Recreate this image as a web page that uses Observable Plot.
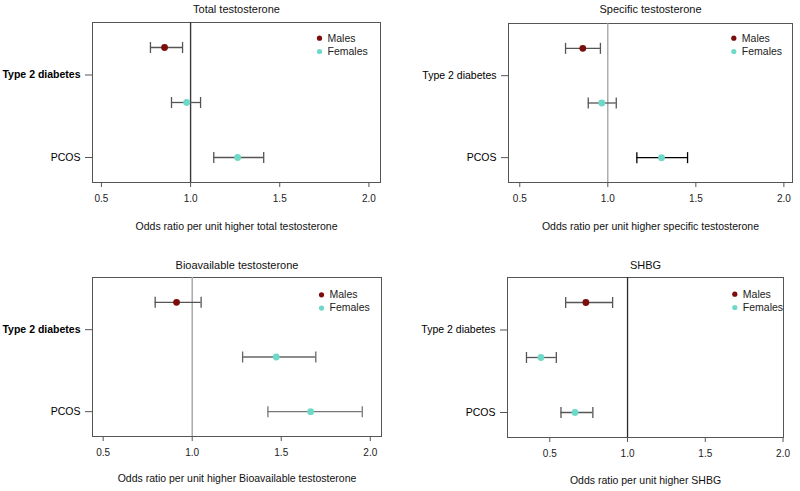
<!DOCTYPE html>
<html><head><meta charset="utf-8">
<script src="https://cdn.jsdelivr.net/npm/d3@7"></script>
<script src="https://cdn.jsdelivr.net/npm/@observablehq/plot@0.6"></script>
<style>
html,body{margin:0;padding:0;background:#fff;}
#chart{position:relative;width:800px;height:491px;overflow:hidden;font-family:"Liberation Sans",Arial,sans-serif;}
#chart > .panel{position:absolute;}
</style></head><body><div id="chart"></div>
<script>
// ---- data ----
const panelTitles = ["Total testosterone", "Specific testosterone", "Bioavailable testosterone", "SHBG"];
const xAxisLabels = [
  "Odds ratio per unit higher total testosterone",
  "Odds ratio per unit higher specific testosterone",
  "Odds ratio per unit higher Bioavailable testosterone",
  "Odds ratio per unit higher SHBG"
];
const outcomes = ["Type 2 diabetes", "Type 2 diabetes", "PCOS"];
const sexes = ["Males", "Females", "Females"];
const oddsRatio = [
  [0.854, 0.978, 1.264],
  [0.858, 0.966, 1.305],
  [0.912, 1.472, 1.665],
  [0.732, 0.443, 0.662]
];
const ciLow = [
  [0.775, 0.893, 1.130],
  [0.760, 0.889, 1.165],
  [0.792, 1.283, 1.425],
  [0.602, 0.350, 0.572]
];
const ciHigh = [
  [0.955, 1.056, 1.410],
  [0.958, 1.048, 1.453],
  [1.050, 1.694, 1.955],
  [0.904, 0.542, 0.777]
];
const xTicks = [0.5, 1.0, 1.5, 2.0];
const legendSeries = ["Males", "Females"];
const refValue = 1;

// ---- styling / layout ----
const sexColors = ["#7b0d0d", "#6fd9c9"];
const layout = [
  {left: 0, top: 0, width: 400, height: 245, ml: 92, mr: 20, mt: 22, mb: 63, xdom: [0.45, 2.065],
   ref: "#3a3a3a", refW: 1.4, ci: ["#555", "#555", "#555"], bold: true, leg: [-61, 15.7], titleDy: -13, labDy: 44},
  {left: 400, top: 0, width: 400, height: 245, ml: 108, mr: 8, mt: 23, mb: 63, xdom: [0.436, 2.049],
   ref: "#9a9a9a", refW: 1.2, ci: ["#555", "#555", "#000"], bold: false, leg: [-58.7, 14.7], titleDy: -14, labDy: 44},
  {left: 0, top: 245, width: 400, height: 246, ml: 92, mr: 19, mt: 32, mb: 55, xdom: [0.44, 2.063],
   ref: "#a8a8a8", refW: 1.5, ci: ["#555", "#666", "#777"], bold: true, leg: [-60, 17.3], titleDy: -12, labDy: 42},
  {left: 400, top: 245, width: 400, height: 246, ml: 107, mr: 17, mt: 32, mb: 54, xdom: [0.228, 2.003],
   ref: "#2a2a2a", refW: 1.3, ci: ["#555", "#555", "#555"], bold: false, leg: [-48.7, 16.7], titleDy: -12, labDy: 43}
];

const capSymbol = {
  draw(ctx, size) {
    const h = Math.sqrt(size / Math.PI);
    ctx.moveTo(0, -h);
    ctx.lineTo(0, h);
  }
};

// y tick positions: one per outcome, at mean row index of its rows
const outcomeNames = [...new Set(outcomes)];
const yTickPos = outcomeNames.map(o => d3.mean(outcomes.map((v, i) => v === o ? i : null).filter(v => v !== null)));
const yTickLabel = new Map(yTickPos.map((p, i) => [p, outcomeNames[i]]));

const chart = document.getElementById("chart");

panelTitles.forEach((title, p) => {
  const L = layout[p];
  const data = outcomes.map((o, i) => ({
    row: i, outcome: o, sex: sexes[i],
    or: oddsRatio[p][i], lo: ciLow[p][i], hi: ciHigh[p][i], ci: L.ci[i]
  }));
  const unit = 55;
  const pad = 25 / unit;
  const marks = [
    Plot.frame({stroke: "#555", strokeWidth: 1}),
    Plot.ruleX([refValue], {stroke: L.ref, strokeWidth: L.refW}),
    Plot.ruleY(data, {y: "row", x1: "lo", x2: "hi", stroke: d => d.ci, strokeWidth: 1.3}),
    Plot.dot(data, {x: "lo", y: "row", symbol: capSymbol, r: 5.5, fill: "none", stroke: d => d.ci, strokeWidth: 1.3}),
    Plot.dot(data, {x: "hi", y: "row", symbol: capSymbol, r: 5.5, fill: "none", stroke: d => d.ci, strokeWidth: 1.3}),
    Plot.dot(data, {x: "or", y: "row", r: 3.4, fill: "sex", stroke: "none"})
  ];
  legendSeries.forEach((s, i) => {
    marks.push(Plot.dot([s], {frameAnchor: "top-right", dx: L.leg[0], dy: L.leg[1] + i * 13.3, r: 2.6, fill: d => d, stroke: "none"}));
    marks.push(Plot.text([s], {frameAnchor: "top-right", dx: L.leg[0] + 8, dy: L.leg[1] + i * 13.3, text: d => d,
      textAnchor: "start", lineAnchor: "middle", fontSize: 10.5, fill: "#222"}));
  });
  marks.push(Plot.text([title], {frameAnchor: "top", dy: L.titleDy, text: d => d, fontSize: 11, fill: "#111", lineAnchor: "middle"}));
  marks.push(Plot.text([xAxisLabels[p]], {frameAnchor: "bottom", dy: L.labDy, text: d => d, fontSize: 10.5, fill: "#111", lineAnchor: "middle"}));

  const svg = Plot.plot({
    width: L.width, height: L.height,
    marginLeft: L.ml, marginRight: L.mr, marginTop: L.mt, marginBottom: L.mb,
    style: {fontFamily: "'Liberation Sans', Arial, sans-serif", fontSize: "10px", color: "#222", background: "white", overflow: "visible"},
    x: {domain: L.xdom, ticks: xTicks, tickFormat: d3.format(".1f"), tickSize: 5, tickPadding: 7, label: null},
    y: {domain: [-pad, 2 + pad], reverse: true, ticks: yTickPos, tickFormat: d => yTickLabel.get(d), tickSize: 7, tickPadding: 5, label: null},
    color: {domain: legendSeries, range: sexColors},
    marks
  });
  // y tick label styling
  svg.querySelectorAll('[aria-label^="y-axis"] text').forEach(t => {
    t.setAttribute("font-size", "10.5");
    t.setAttribute("fill", "#000");
    if (L.bold && t.textContent === outcomeNames[0]) t.setAttribute("font-weight", "bold");
  });
  svg.querySelectorAll('[aria-label^="y-axis"] line, [aria-label^="y-axis"] path, [aria-label^="x-axis"] line, [aria-label^="x-axis"] path').forEach(l => {
    l.setAttribute("stroke", "#555");
  });
  const div = document.createElement("div");
  div.className = "panel";
  div.style.left = L.left + "px";
  div.style.top = L.top + "px";
  div.appendChild(svg);
  chart.appendChild(div);
});
</script>
</body></html>
